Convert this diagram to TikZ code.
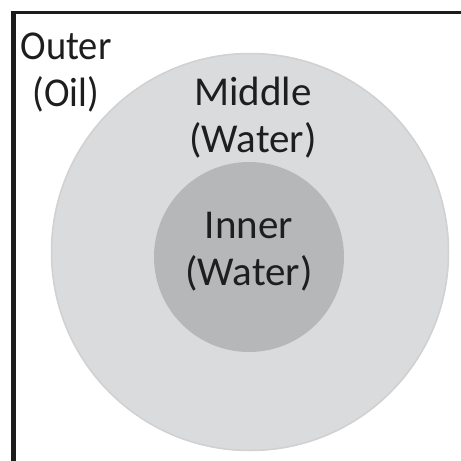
\documentclass[tikz,border=0pt]{standalone}
\usepackage{fontspec}
\setmainfont{Carlito}
\definecolor{outerfill}{HTML}{DADBDD}
\definecolor{innerfill}{HTML}{B6B7B9}
\definecolor{textcol}{HTML}{1E1E1E}
\definecolor{framecol}{HTML}{1C1C1C}
\begin{document}
\begin{tikzpicture}[x=1pt,y=-1pt,
  lbl/.style={align=center,text=textcol,font=\fontsize{41}{47}\selectfont,inner sep=0pt}]
\useasboundingbox (0,0) rectangle (461,461);
\fill[white] (0,0) rectangle (461,461);
% frame
\fill[framecol] (11,11) rectangle (16,461);
\fill[framecol] (11,11) rectangle (461,14);
% circles
\fill[outerfill] (250,252) circle[radius=199];
\draw[black!18,line width=1.5] (250,252) circle[radius=198.5];
\node[circle,fill=innerfill,minimum size=190,inner sep=0pt] (inner) at (249,257) {};
\node[lbl,xscale=0.94] (outerlbl) at (66,73) {Outer\\(Oil)};
\node[lbl] (middlelbl) at (253,118) {Middle\\(Water)};
\node[lbl] (innerlbl) at (249,252) {Inner\\(Water)};
\end{tikzpicture}
\end{document}
